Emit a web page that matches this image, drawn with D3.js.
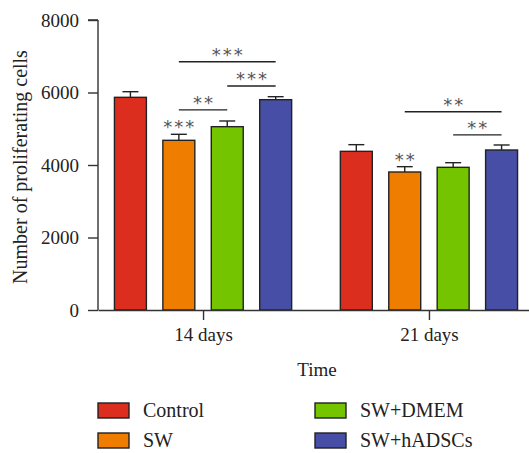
<!DOCTYPE html>
<html><head><meta charset="utf-8">
<script src="https://cdn.jsdelivr.net/npm/d3@7"></script>
<style>body{margin:0;background:#fff}</style>
</head><body>
<svg id="c" width="529" height="453"></svg>
<script>
const groups = ["14 days", "21 days"];
const series = ["Control", "SW", "SW+DMEM", "SW+hADSCs"];
const colors = ["#DC2E1E", "#EF7D00", "#74C400", "#464EA5"];
const values = {
  "14 days": [5867, 4681, 5057, 5802],
  "21 days": [4377, 3807, 3936, 4414]
};
const errors = {
  "14 days": [155, 166, 157, 83],
  "21 days": [184, 147, 128, 138]
};
const yTicks = [0, 2000, 4000, 6000, 8000];
// bar-top significance marks: [group, series index, label]
const barMarks = [["14 days", 1, "***"], ["21 days", 1, "**"]];
// brackets: [group, from series, to series, level, label]
const brackets = [
  ["14 days", 1, 3, 6850, "***"],
  ["14 days", 2, 3, 6180, "***"],
  ["14 days", 1, 2, 5520, "**"],
  ["21 days", 1, 3, 5470, "**"],
  ["21 days", 2, 3, 4830, "**"]
];

const svg = d3.select("#c");
const serif = "Liberation Serif";
const y = d3.scaleLinear().domain([0, 8000]).range([310, 20]);
const x0 = d3.scalePoint().domain(groups).range([98, 534]).padding(0.465);
const x1 = d3.scaleBand().domain(d3.range(series.length)).range([-88.6, 88.6]).paddingInner(0.34).paddingOuter(0);
const bw = x1.bandwidth();
const cx = (g, i) => x0(g) + x1(i) + bw / 2;

// bars
groups.forEach(g => {
  const gg = svg.append("g");
  gg.selectAll("rect").data(values[g]).join("rect")
    .attr("x", (d, i) => x0(g) + x1(i))
    .attr("y", d => y(d))
    .attr("width", bw)
    .attr("height", d => y(0) - y(d))
    .attr("fill", (d, i) => colors[i])
    .attr("stroke", "#222").attr("stroke-width", 1.4);
  values[g].forEach((v, i) => {
    const e = errors[g][i];
    const c = cx(g, i);
    gg.append("line").attr("x1", c).attr("x2", c).attr("y1", y(v)).attr("y2", y(v + e))
      .attr("stroke", "#222").attr("stroke-width", 1.4);
    gg.append("line").attr("x1", c - bw / 4).attr("x2", c + bw / 4).attr("y1", y(v + e)).attr("y2", y(v + e))
      .attr("stroke", "#222").attr("stroke-width", 1.4);
  });
});

// axes
const yAxis = svg.append("g").attr("transform", "translate(98,0)")
  .call(d3.axisLeft(y).tickValues(yTicks).tickSize(10).tickPadding(9).tickFormat(d3.format("d")));
const xAxis = svg.append("g").attr("transform", "translate(0,310)")
  .call(d3.axisBottom(x0).tickSize(10).tickPadding(8).tickSizeOuter(0));
[yAxis, xAxis].forEach(a => {
  a.attr("font-family", serif).attr("font-size", 19);
  a.selectAll("path,line").attr("stroke", "#333").attr("stroke-width", 1.4);
  a.selectAll("text").style("font-family", serif).attr("font-size", 19).attr("fill", "#222");
});
yAxis.select(".domain").attr("d", "M0," + y(8000) + "H-10M0," + y(8000) + "V" + y(0));

// significance
const starStyle = s => s.style("font-family", "DejaVu Sans").attr("font-size", 18)
  .attr("fill", "#555").attr("text-anchor", "middle").attr("letter-spacing", 2);
barMarks.forEach(([g, i, lab]) => {
  const top = values[g][i] + errors[g][i];
  svg.append("text").attr("x", cx(g, i) + 1).attr("y", y(top) - 1).text(lab).call(starStyle);
});
brackets.forEach(([g, a, b, lvl, lab]) => {
  svg.append("line").attr("x1", cx(g, a)).attr("x2", cx(g, b)).attr("y1", y(lvl)).attr("y2", y(lvl))
    .attr("stroke", "#222").attr("stroke-width", 1.4);
  svg.append("text").attr("x", (cx(g, a) + cx(g, b)) / 2 + 1).attr("y", y(lvl) - 1).text(lab).call(starStyle);
});

// axis titles
svg.append("text").attr("x", 317).attr("y", 376).attr("text-anchor", "middle")
  .style("font-family", serif).attr("font-size", 19).attr("fill", "#222").text("Time");
svg.append("text").attr("transform", "translate(27,167) rotate(-90)").attr("text-anchor", "middle")
  .style("font-family", serif).attr("font-size", 20).attr("fill", "#222").text("Number of proliferating cells");

// legend
const legX = [98, 315], legY = [403, 433];
series.forEach((s, i) => {
  const col = Math.floor(i / 2), row = i % 2;
  const lg = svg.append("g").attr("transform", `translate(${legX[col]},${legY[row]})`);
  lg.append("rect").attr("width", 31).attr("height", 15).attr("fill", colors[i])
    .attr("stroke", "#222").attr("stroke-width", 1.4);
  lg.append("text").attr("x", 45).attr("y", 14).style("font-family", serif).attr("font-size", 20)
    .attr("fill", "#222").text(s);
});
</script>
</body></html>
